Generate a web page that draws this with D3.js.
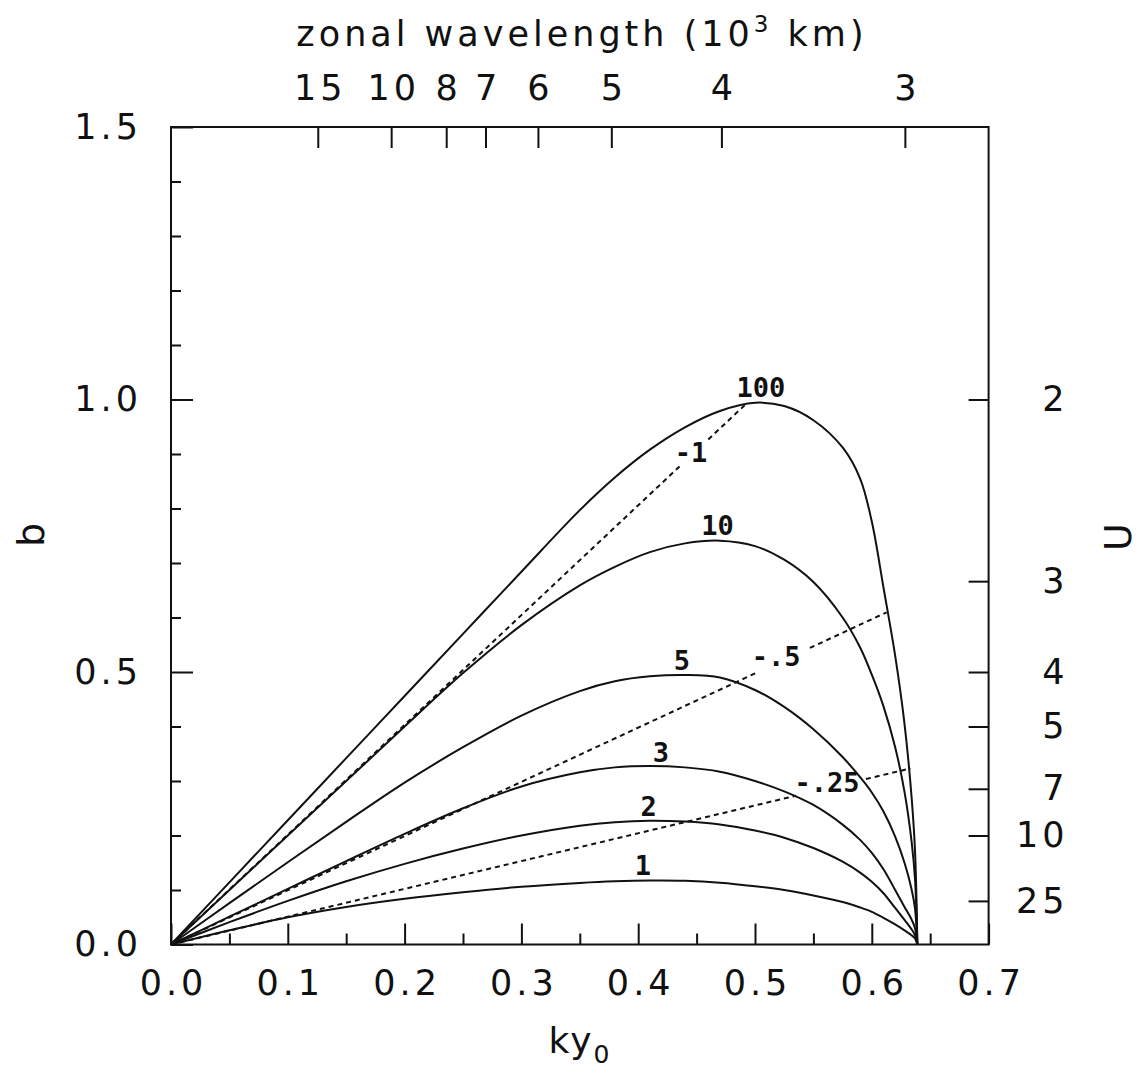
<!DOCTYPE html>
<html>
<head>
<meta charset="utf-8">
<script src="https://cdn.jsdelivr.net/npm/d3@7"></script>
<style>
  body { margin: 0; background: #fff; }
</style>
</head>
<body>
<svg id="chart" width="1142" height="1073"></svg>
<script>
// ky0 grid shared by all curves (denser near the short-wave cutoff)
const kGrid = [0, 0.05, 0.1, 0.15, 0.2, 0.25, 0.3, 0.35, 0.38, 0.41, 0.44, 0.47, 0.5, 0.525, 0.55, 0.575, 0.59, 0.6, 0.61, 0.62, 0.628, 0.634, 0.637, 0.639];

// growth rate b, one array per curve
const b1   = [0, .026, .05, .069, .084, .096, .106, .113, .116, .1175, .117, .1135, .107, .1, .09, .078, .068, .06, .049, .037, .026, .017, .011, 0];
const b2   = [0, .041, .08, .116, .148, .176, .2, .218, .2245, .227, .2255, .22, .209, .196, .177, .152, .132, .115, .094, .067, .045, .028, .017, 0];
const b3   = [0, .051, .102, .153, .203, .25, .29, .316, .325, .3275, .325, .317, .3, .281, .256, .22, .192, .168, .138, .1, .069, .046, .03, 0];
const b5   = [0, .076, .151, .225, .297, .362, .42, .465, .483, .492, .4945, .49, .467, .436, .395, .344, .307, .279, .244, .198, .15, .102, .066, 0];
const b10  = [0, .1, .2, .3, .4, .498, .586, .659, .693, .72, .736, .741, .731, .706, .665, .6, .545, .495, .437, .362, .28, .19, .12, 0];
const b100 = [0, .114, .228, .342, .456, .57, .684, .797, .857, .908, .949, .979, .994, .988, .962, .912, .855, .776, .655, .53, .405, .272, .172, 0];

const curveNames = ["1", "2", "3", "5", "10", "100"];
const curveValues = [b1, b2, b3, b5, b10, b100];
// where each curve label sits (ky0, b)
const curveLabelK = [0.404, 0.409, 0.4195, 0.4375, 0.468, 0.505];
const curveLabelB = [0.1275, 0.236, 0.335, 0.504, 0.751, 1.005];

// dashed lines from the origin
const dashNames = ["-1", "-.5", "-.25"];
const dashEndK = [0.4914, 0.6127, 0.633];
const dashEndB = [0.99, 0.6095, 0.323];
const dashGapK = [[0.436, 0.46], [0.5014, 0.547], [0.535, 0.595]];
const dashLabelK = [0.4452, 0.518, 0.5616];
const dashLabelB = [0.885, 0.511, 0.28];

// axis ticks
const xMajor = [0, 0.1, 0.2, 0.3, 0.4, 0.5, 0.6, 0.7];
const xMinor = [0.05, 0.15, 0.25, 0.35, 0.45, 0.55, 0.65];
const yMajor = [0, 0.5, 1.0, 1.5];
const yMinor = [0.1, 0.2, 0.3, 0.4, 0.6, 0.7, 0.8, 0.9, 1.1, 1.2, 1.3, 1.4];
const uTicks = [2, 3, 4, 5, 7, 10, 25];          // right axis, U
const lamTicks = [15, 10, 8, 7, 6, 5, 4, 3];     // top axis, wavelength (10^3 km)

const uToB = u => 2 / u;
const lamToK = L => 2 * Math.PI * 0.3 / L;       // y0 = 300 km

const svg = d3.select("#chart");
const x = d3.scaleLinear().domain([0, 0.7]).range([171, 988.6]);
const y = d3.scaleLinear().domain([0, 1.5]).range([944.5, 127]);

const ink = "#111";
const LS = 4; // letter spacing of the wide lettering

function styleAxis(g) {
  g.select(".domain").remove();
  g.selectAll(".tick line").attr("stroke", ink).attr("stroke-width", 2);
  g.selectAll("text").attr("font-family", "DejaVu Sans").attr("font-size", 35)
    .attr("letter-spacing", LS).attr("fill", ink);
}

// bottom
svg.append("g").attr("transform", `translate(0,${y(0)})`)
  .call(d3.axisBottom(x).tickValues(xMajor).tickSize(-21).tickPadding(26).tickFormat(d3.format(".1f")))
  .call(styleAxis)
  .selectAll("text").attr("dx", LS / 2);
svg.append("g").attr("transform", `translate(0,${y(0)})`)
  .call(d3.axisBottom(x).tickValues(xMinor).tickSize(-11).tickFormat(""))
  .call(styleAxis);

// left
svg.append("g").attr("transform", `translate(${x(0)},0)`)
  .call(d3.axisLeft(y).tickValues(yMajor).tickSize(-22).tickPadding(33 - LS).tickFormat(d3.format(".1f")))
  .call(styleAxis);
svg.append("g").attr("transform", `translate(${x(0)},0)`)
  .call(d3.axisLeft(y).tickValues(yMinor).tickSize(-10).tickFormat(""))
  .call(styleAxis);

// right (U)
svg.append("g").attr("transform", `translate(${x(0.7)},0)`)
  .call(d3.axisRight(y).tickValues(uTicks.map(uToB)).tickSize(-20).tickFormat((d, i) => uTicks[i]))
  .call(styleAxis)
  .selectAll("text").attr("text-anchor", "end").attr("x", 76 + LS);

// top (wavelength)
svg.append("g").attr("transform", `translate(0,${y(1.5)})`)
  .call(d3.axisTop(x).tickValues(lamTicks.map(lamToK)).tickSize(-21).tickPadding(27).tickFormat((d, i) => lamTicks[i]))
  .call(styleAxis)
  .selectAll("text").attr("dx", LS / 2);

// frame
svg.append("rect")
  .attr("x", x(0)).attr("y", y(1.5))
  .attr("width", x(0.7) - x(0)).attr("height", y(0) - y(1.5))
  .attr("fill", "none").attr("stroke", ink).attr("stroke-width", 2);

function curveLabel(k, b, txt) {
  svg.append("text")
    .attr("x", x(k)).attr("y", y(b))
    .attr("text-anchor", "middle")
    .attr("font-family", "DejaVu Sans Mono").attr("font-weight", "bold").attr("font-size", 27)
    .attr("fill", ink).text(txt);
}

// dashed lines, broken where their label sits
dashNames.forEach((name, i) => {
  const slope = dashEndB[i] / dashEndK[i];
  const segs = [[0, dashGapK[i][0]], [dashGapK[i][1], dashEndK[i]]];
  segs.forEach(s => {
    svg.append("line")
      .attr("x1", x(s[0])).attr("y1", y(s[0] * slope))
      .attr("x2", x(s[1])).attr("y2", y(s[1] * slope))
      .attr("stroke", ink).attr("stroke-width", 2).attr("stroke-dasharray", "5,4");
  });
  curveLabel(dashLabelK[i], dashLabelB[i], name);
});

// solid curves
const line = d3.line().x(d => x(d[0])).y(d => y(d[1])).curve(d3.curveCatmullRom.alpha(0.5));
curveValues.forEach((vals, i) => {
  svg.append("path")
    .datum(kGrid.map((k, j) => [k, vals[j]]))
    .attr("d", line)
    .attr("fill", "none").attr("stroke", ink).attr("stroke-width", 2);
  curveLabel(curveLabelK[i], curveLabelB[i], curveNames[i]);
});

// axis titles
const title = svg.append("text").attr("x", 580 + LS / 2).attr("y", 46)
  .attr("text-anchor", "middle").attr("font-family", "DejaVu Sans").attr("font-size", 35)
  .attr("letter-spacing", LS).attr("fill", ink);
title.append("tspan").text("zonal wavelength (10");
title.append("tspan").attr("font-size", 23).attr("dy", -14).text("3");
title.append("tspan").attr("dy", 14).text(" km)");

const xt = svg.append("text").attr("x", 580).attr("y", 1053)
  .attr("text-anchor", "middle").attr("font-family", "DejaVu Sans").attr("font-size", 36)
  .attr("letter-spacing", 2).attr("fill", ink);
xt.append("tspan").text("ky");
xt.append("tspan").attr("font-size", 25).attr("dy", 10).text("0");

svg.append("text").attr("transform", "translate(44,535) rotate(-90)")
  .attr("text-anchor", "middle").attr("font-family", "DejaVu Sans").attr("font-size", 38).attr("fill", ink).text("b");
svg.append("text").attr("transform", "translate(1131,537) rotate(-90)")
  .attr("text-anchor", "middle").attr("font-family", "DejaVu Sans").attr("font-size", 38).attr("fill", ink).text("U");
</script>
</body>
</html>
